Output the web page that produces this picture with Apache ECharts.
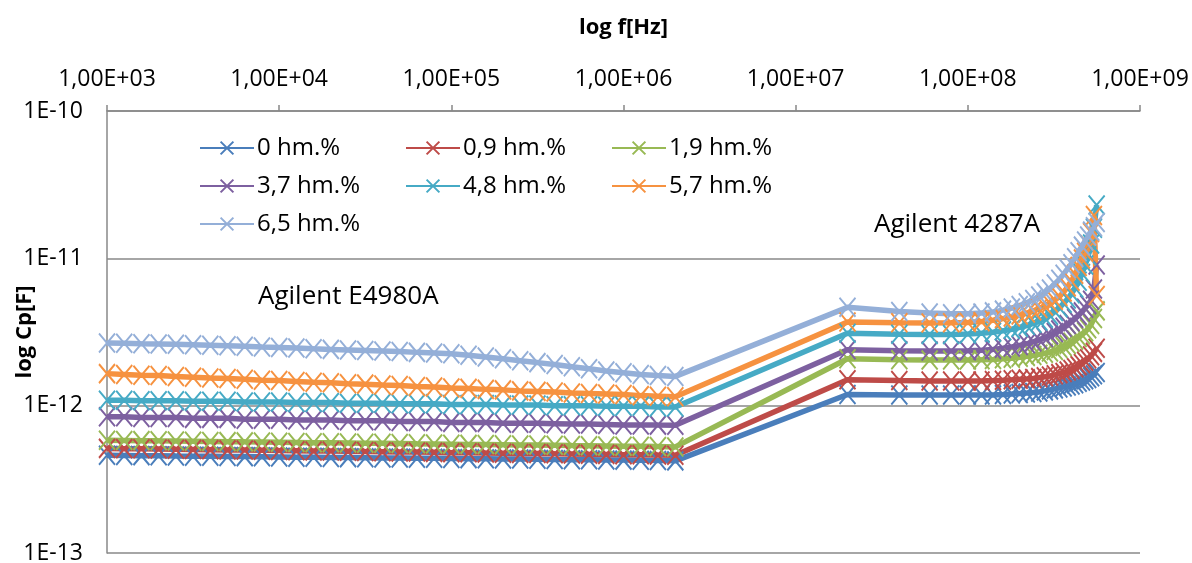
<!DOCTYPE html>
<html>
<head>
<meta charset="utf-8">
<title>log Cp vs log f</title>
<script src="https://cdn.jsdelivr.net/npm/echarts@6/dist/echarts.min.js"></script>
<style>
  html, body { margin: 0; padding: 0; background: #fff; }
  #chart { width: 1192px; height: 563px; }
</style>
</head>
<body>
<div id="chart"></div>
<script>
// frequencies [Hz]
const freqE4980A = [1000, 1259, 1585, 1995, 2512, 3162, 3981, 5012, 6310, 7943,
  10000, 12589, 15849, 19953, 25119, 31623, 39811, 50119, 63096, 79433,
  100000, 125893, 158489, 199526, 251189, 316228, 398107, 501187, 630957, 794328,
  1000000, 1258925, 1584893, 2000000]
const freq4287A = [20e6, 40e6, 60e6, 80e6, 100e6, 120e6, 140e6, 160e6, 180e6, 200e6,
  220e6, 240e6, 260e6, 280e6, 300e6, 320e6, 340e6, 360e6, 380e6, 400e6,
  420e6, 440e6, 460e6, 480e6, 500e6, 520e6, 540e6, 560e6]

const seriesNames = ["0 hm.%", "0,9 hm.%", "1,9 hm.%", "3,7 hm.%", "4,8 hm.%", "5,7 hm.%", "6,5 hm.%"]

// Cp [pF], Agilent E4980A
const lowF_00 = [0.460, 0.459, 0.458, 0.457, 0.455, 0.454, 0.453, 0.452, 0.451, 0.450,
  0.449, 0.447, 0.446, 0.445, 0.444, 0.443, 0.442, 0.441, 0.440, 0.439,
  0.438, 0.437, 0.436, 0.435, 0.434, 0.433, 0.431, 0.430, 0.429, 0.428,
  0.427, 0.426, 0.424, 0.422]
const lowF_09 = [0.513, 0.511, 0.510, 0.508, 0.506, 0.505, 0.503, 0.501, 0.500, 0.498,
  0.496, 0.495, 0.493, 0.492, 0.490, 0.488, 0.487, 0.485, 0.484, 0.482,
  0.480, 0.479, 0.477, 0.476, 0.474, 0.473, 0.471, 0.470, 0.468, 0.467,
  0.465, 0.464, 0.462, 0.461]
const lowF_19 = [0.583, 0.581, 0.579, 0.577, 0.576, 0.574, 0.572, 0.570, 0.568, 0.567,
  0.565, 0.563, 0.561, 0.560, 0.558, 0.556, 0.555, 0.553, 0.551, 0.550,
  0.548, 0.546, 0.545, 0.543, 0.541, 0.540, 0.538, 0.536, 0.535, 0.533,
  0.531, 0.530, 0.528, 0.525]
const lowF_37 = [0.84, 0.84, 0.83, 0.83, 0.83, 0.82, 0.82, 0.82, 0.81, 0.81,
  0.81, 0.80, 0.80, 0.80, 0.79, 0.79, 0.79, 0.78, 0.78, 0.78,
  0.77, 0.77, 0.77, 0.76, 0.76, 0.76, 0.755, 0.75, 0.75, 0.745,
  0.74, 0.74, 0.738, 0.736]
const lowF_48 = [1.09, 1.09, 1.08, 1.08, 1.08, 1.07, 1.07, 1.07, 1.06, 1.06,
  1.06, 1.05, 1.05, 1.05, 1.04, 1.04, 1.04, 1.03, 1.03, 1.03,
  1.02, 1.02, 1.02, 1.01, 1.01, 1.01, 1.00, 1.00, 1.00, 0.99,
  0.99, 0.99, 0.98, 0.98]
const lowF_57 = [1.65, 1.63, 1.61, 1.60, 1.58, 1.56, 1.54, 1.53, 1.51, 1.49,
  1.48, 1.46, 1.44, 1.43, 1.41, 1.40, 1.38, 1.37, 1.35, 1.34,
  1.32, 1.31, 1.29, 1.28, 1.26, 1.25, 1.24, 1.22, 1.21, 1.20,
  1.19, 1.17, 1.16, 1.15]
const lowF_65 = [2.66, 2.65, 2.63, 2.62, 2.61, 2.59, 2.57, 2.55, 2.53, 2.50,
  2.48, 2.46, 2.43, 2.41, 2.39, 2.37, 2.35, 2.33, 2.30, 2.28,
  2.25, 2.20, 2.14, 2.08, 2.02, 1.96, 1.90, 1.84, 1.78, 1.72,
  1.67, 1.63, 1.60, 1.58]

// Cp [pF], Agilent 4287A
const highF_00 = [1.19, 1.18, 1.18, 1.18, 1.18, 1.18, 1.18, 1.19, 1.20, 1.21,
  1.22, 1.23, 1.24, 1.26, 1.28, 1.30, 1.32, 1.34, 1.36, 1.38,
  1.41, 1.44, 1.47, 1.50, 1.53, 1.57, 1.62, 1.68]
const highF_09 = [1.50, 1.48, 1.47, 1.47, 1.47, 1.47, 1.48, 1.49, 1.50, 1.51,
  1.52, 1.53, 1.55, 1.57, 1.59, 1.62, 1.65, 1.68, 1.72, 1.76,
  1.81, 1.87, 1.93, 2.00, 2.08, 2.18, 2.30, 2.45]
const highF_19 = [2.08, 2.05, 2.04, 2.04, 2.04, 2.05, 2.06, 2.08, 2.10, 2.13,
  2.16, 2.19, 2.23, 2.27, 2.31, 2.37, 2.44, 2.52, 2.60, 2.69,
  2.79, 2.90, 3.03, 3.17, 3.33, 3.55, 3.90, 4.40]
const highF_37 = [2.40, 2.36, 2.35, 2.35, 2.36, 2.38, 2.41, 2.45, 2.50, 2.56,
  2.63, 2.71, 2.80, 2.90, 3.02, 3.14, 3.27, 3.41, 3.56, 3.72,
  3.90, 4.10, 4.33, 4.58, 4.85, 5.20, 6.20, 9.00]
const highF_48 = [3.10, 3.05, 3.04, 3.04, 3.06, 3.10, 3.15, 3.22, 3.30, 3.40,
  3.50, 3.62, 3.76, 3.92, 4.10, 4.35, 4.62, 4.95, 5.30, 5.75,
  6.30, 7.00, 7.90, 9.00, 10.4, 12.5, 16.0, 23.0]
const highF_57 = [3.70, 3.65, 3.64, 3.65, 3.67, 3.72, 3.80, 3.90, 4.00, 4.12,
  4.25, 4.40, 4.56, 4.75, 4.95, 5.20, 5.50, 5.90, 6.40, 7.00,
  7.80, 8.80, 9.90, 11.0, 12.4, 15.0, 19.5, 5.60]
const highF_65 = [4.65, 4.35, 4.25, 4.20, 4.20, 4.25, 4.33, 4.45, 4.60, 4.78,
  5.00, 5.25, 5.55, 5.85, 6.20, 6.70, 7.20, 7.80, 8.50, 9.20,
  10.1, 11.1, 12.1, 13.1, 14.2, 15.3, 16.4, 17.5]

const xTickLabels = ["1,00E+03", "1,00E+04", "1,00E+05", "1,00E+06", "1,00E+07", "1,00E+08", "1,00E+09"]
const yTickLabels = ["1E-13", "1E-12", "1E-11", "1E-10"]

const lowF = [lowF_00, lowF_09, lowF_19, lowF_37, lowF_48, lowF_57, lowF_65]
const highF = [highF_00, highF_09, highF_19, highF_37, highF_48, highF_57, highF_65]
const colors = ["#4A7EBB", "#BE4B48", "#98B954", "#7D60A0", "#46AAC5", "#F69240", "#94AFD8"]

const FONT = "'Open Sans', Lato, sans-serif"
const cross = "path://M0,0L10,10M10,0L0,10"

const chart = echarts.init(document.getElementById("chart"), null, { renderer: "canvas" })

const series = seriesNames.map((name, i) => ({
  name,
  type: "line",
  data: freqE4980A.map((f, k) => [f, lowF[i][k] * 1e-12])
    .concat(freq4287A.map((f, k) => [f, highF[i][k] * 1e-12])),
  symbol: cross,
  symbolSize: [16, 19],
  showAllSymbol: true,
  clip: false,
  lineStyle: { width: 5.5, color: colors[i] },
  itemStyle: { color: colors[i], borderColor: colors[i], borderWidth: 2 },
  emphasis: { disabled: true }
}))

const legends = seriesNames.map((name, i) => ({
  data: [name],
  left: 194 + 206 * (i % 3),
  top: 131 + 38 * Math.floor(i / 3),
  itemWidth: 54,
  itemHeight: 16,
  itemGap: 6,
  textStyle: { fontFamily: FONT, fontSize: 24, color: "#000", padding: [0, 0, 0, -2] }
}))

chart.setOption({
  animation: false,
  backgroundColor: "#fff",
  grid: { left: 107, right: 52, top: 111, bottom: 10, containLabel: false, outerBoundsMode: "none" },
  legend: legends,
  xAxis: {
    type: "log",
    logBase: 10,
    position: "top",
    min: 1e3,
    max: 1e9,
    name: "log f[Hz]",
    nameLocation: "middle",
    nameGap: 72,
    nameMoveOverlap: false,
    nameTextStyle: { fontFamily: FONT, fontSize: 22, fontWeight: "bold", color: "#000" },
    axisLine: { lineStyle: { color: "#888", width: 1.5 } },
    axisTick: { show: true, inside: false, length: 6, lineStyle: { color: "#888", width: 1.5 } },
    axisLabel: {
      fontFamily: FONT, fontSize: 23, color: "#000", margin: 20,
      formatter: (v) => xTickLabels[Math.round(Math.log10(v)) - 3]
    },
    splitLine: { show: false }
  },
  yAxis: {
    type: "log",
    logBase: 10,
    min: 1e-13,
    max: 1e-10,
    name: "log Cp[F]",
    nameLocation: "middle",
    nameGap: 71,
    nameRotate: 90,
    nameMoveOverlap: false,
    nameTextStyle: { fontFamily: FONT, fontSize: 22, fontWeight: "bold", color: "#000" },
    axisLine: { show: true, lineStyle: { color: "#888", width: 1.5 } },
    axisTick: { show: false },
    axisLabel: {
      fontFamily: FONT, fontSize: 23, color: "#000", margin: 24,
      formatter: (v) => yTickLabels[Math.round(Math.log10(v)) + 13]
    },
    splitLine: { show: true, lineStyle: { color: "#888", width: 1.5 } }
  },
  graphic: [
    { type: "text", left: 258, top: 284, style: { text: "Agilent E4980A", font: "26px " + FONT, fill: "#000" } },
    { type: "text", left: 874, top: 212, style: { text: "Agilent 4287A", font: "26px " + FONT, fill: "#000" } }
  ],
  series
})
</script>
</body>
</html>
